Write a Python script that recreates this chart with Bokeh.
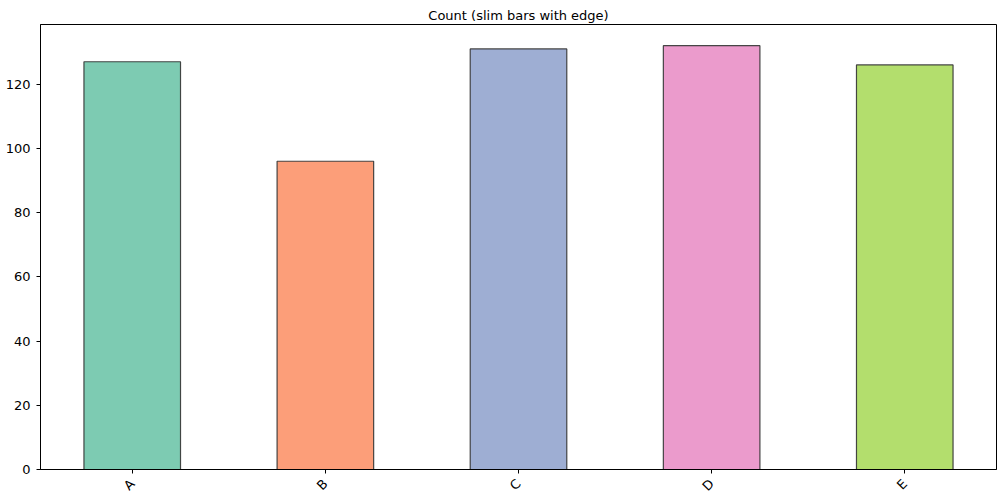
import math
from bokeh.plotting import figure
from bokeh.models import Range1d, FixedTicker, ColumnDataSource
from bokeh.embed import file_html
from bokeh.resources import INLINE

categories = ["A", "B", "C", "D", "E"]
counts = [127, 96, 131, 132, 126]
colors = ["#66c2a5", "#fc8d62", "#8da0cb", "#e78ac3", "#a6d854"]
title_text = "Count (slim bars with edge)"

xs = list(range(len(categories)))
src = ColumnDataSource(dict(x=xs, top=counts, color=colors))

p = figure(width=1000, height=500, output_backend="svg", toolbar_location=None,
           frame_width=956, frame_height=445,
           min_border_left=40, min_border_right=4, min_border_top=24, min_border_bottom=31,
           x_range=Range1d(-0.475, 4.475), y_range=Range1d(0, max(counts) * 1.05),
           title=title_text)

p.vbar(x="x", top="top", width=0.5, bottom=0, source=src,
       fill_color="color", fill_alpha=0.85,
       line_color="#333333", line_alpha=0.9, line_width=1.2)

p.title.align = "center"
p.title.text_font = "DejaVu Sans"
p.title.text_font_size = "13px"
p.title.text_font_style = "normal"
p.title.text_color = "black"
p.title.standoff = 4

p.xgrid.visible = False
p.ygrid.visible = False
p.outline_line_color = "black"
p.outline_line_width = 1
p.outline_line_alpha = 1

p.xaxis.ticker = FixedTicker(ticks=xs)
p.xaxis.major_label_overrides = {i: c for i, c in enumerate(categories)}
p.xaxis.major_label_orientation = math.pi / 4
p.yaxis.ticker = FixedTicker(ticks=[0, 20, 40, 60, 80, 100, 120])

for ax in (p.xaxis[0], p.yaxis[0]):
    ax.major_label_text_font = "DejaVu Sans"
    ax.major_label_text_font_size = "13px"
    ax.major_label_text_color = "black"
    ax.minor_tick_line_color = None
    ax.major_tick_out = 4
    ax.major_tick_in = 0
    ax.major_tick_line_color = "black"
    ax.axis_line_color = "black"

p.xaxis[0].major_label_standoff = 8
p.yaxis[0].major_label_standoff = 6

p.background_fill_color = "white"
p.border_fill_color = "white"

open("out.html", "w").write(file_html(p, INLINE))
